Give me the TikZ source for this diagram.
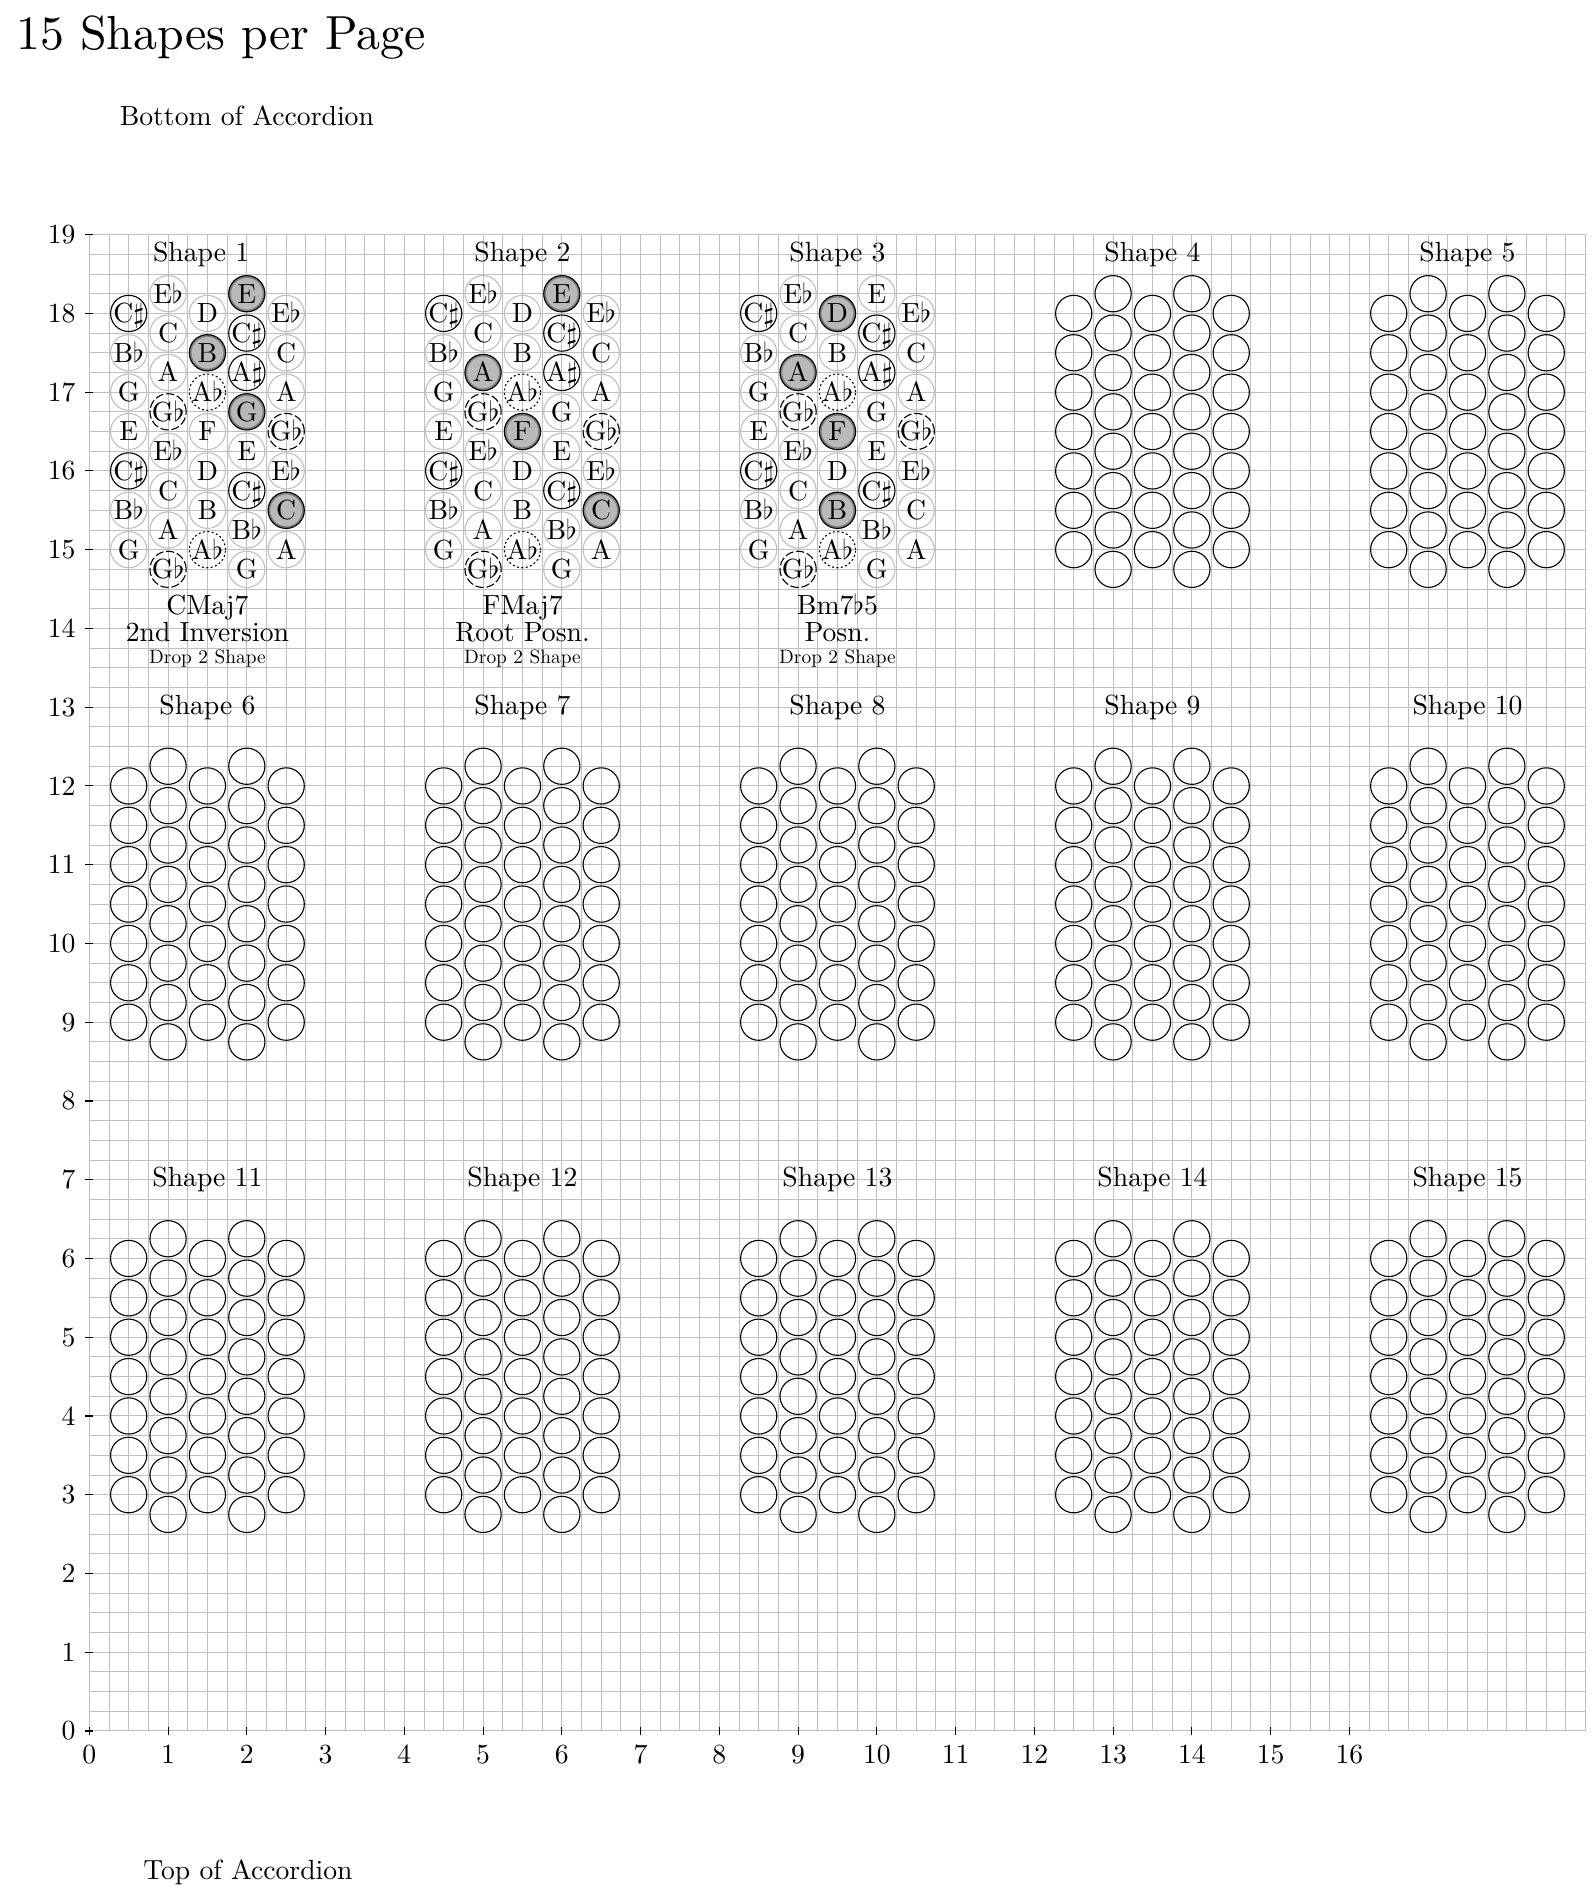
\documentclass[tikz,border=0pt]{standalone}
\usepackage{fontspec}
\setmainfont{lmroman10-regular.otf}
\newcommand{\fl}[1]{#1$\flat$}
\newcommand{\sh}[1]{#1$\sharp$}
\begin{document}
\begin{tikzpicture}[
  key/.style={circle, draw=gray!50, minimum size=4.6mm, inner sep=0pt,
    text height=6.8pt, text depth=0pt,
    execute at begin node={\hbox to 0pt\bgroup\hss},
    execute at end node={\hss\egroup}},
  sharpkey/.style={key, draw=black},
  flatkey/.style={key, draw=black, dash pattern=on 3pt off 1pt},
  dotkey/.style={key, draw=black, dash pattern=on 0.7pt off 0.9pt},
  chordkey/.style={key, draw=black, fill=gray!55,
    path picture={\draw[gray, line width=1.6pt] (path picture bounding box.center) circle (2.3mm);}},
  blank/.style={circle, draw, minimum size=4.6mm, inner sep=0pt}
]
\useasboundingbox (-1.134,-2.07) rectangle (19.12,21.98);

\node[anchor=base west, inner sep=0pt, font=\LARGE] (pagetitle) at (-0.93,21.35) {15 Shapes per Page};
\node[anchor=base west, inner sep=0pt] (bottomlbl) at (0.38,20.38) {Bottom of Accordion};
\node[anchor=base west, inner sep=0pt] (toplbl) at (0.68,-1.88) {Top of Accordion};

% the paper
\draw[gray!50, line width=0.35pt, step=0.25] (0,0) grid (19,19);
\foreach \x in {0,...,16}
  \draw (\x,0.05) -- (\x,-0.05) node[below] (xl\x) {\x};
\foreach \y in {0,...,19}
  \draw (0.05,\y) -- (-0.05,\y) node[left] (yl\y) {\y};

% shape titles
\foreach \s/\x/\y in {1/1.42/18.75, 2/5.5/18.75, 3/9.5/18.75, 4/13.5/18.75, 5/17.5/18.75,
    6/1.5/13, 7/5.5/13, 8/9.5/13, 9/13.5/13, 10/17.5/13,
    11/1.5/7, 12/5.5/7, 13/9.5/7, 14/13.5/7, 15/17.5/7}
  \node (title\s) at (\x,\y) {Shape \s};

% filled in shapes
\foreach \s/\x in {1/0, 2/4, 3/8} {
  \foreach \n/\k [count=\i from 0] in {\sh C/sharpkey, \fl B/key, G/key, E/key, \sh C/sharpkey, \fl B/key, G/key}
    \node[\k] (s\s-a\i) at (\x+0.5,18-\i/2) {\n};
  \foreach \n/\k [count=\i from 0] in {\fl E/key, C/key, A/key, \fl G/flatkey, \fl E/key, C/key, A/key, \fl G/flatkey}
    \node[\k] (s\s-b\i) at (\x+1,18.25-\i/2) {\n};
  \foreach \n/\k [count=\i from 0] in {D/key, B/key, \fl A/dotkey, F/key, D/key, B/key, \fl A/dotkey}
    \node[\k] (s\s-c\i) at (\x+1.5,18-\i/2) {\n};
  \foreach \n/\k [count=\i from 0] in {E/key, \sh C/sharpkey, \sh A/sharpkey, G/key, E/key, \sh C/sharpkey, \fl B/key, G/key}
    \node[\k] (s\s-d\i) at (\x+2,18.25-\i/2) {\n};
  \foreach \n/\k [count=\i from 0] in {\fl E/key, C/key, A/key, \fl G/flatkey, \fl E/key, C/key, A/key}
    \node[\k] (s\s-e\i) at (\x+2.5,18-\i/2) {\n};
}

% CMaj7
\node[chordkey] (s1-E) at (s1-d0) {E};
\node[chordkey] (s1-B) at (s1-c1) {B};
\node[chordkey] (s1-G) at (s1-d3) {G};
\node[chordkey] (s1-C) at (s1-e5) {C};
% FMaj7
\node[chordkey] (s2-E) at (s2-d0) {E};
\node[chordkey] (s2-A) at (s2-b2) {A};
\node[chordkey] (s2-F) at (s2-c3) {F};
\node[chordkey] (s2-C) at (s2-e5) {C};
% Bm7b5
\node[chordkey] (s3-D) at (s3-c0) {D};
\node[chordkey] (s3-A) at (s3-b2) {A};
\node[chordkey] (s3-F) at (s3-c3) {F};
\node[chordkey] (s3-B) at (s3-c5) {B};

\foreach \s/\x/\name/\pos in {1/1.5/CMaj7/2nd Inversion, 2/5.5/FMaj7/Root Posn., 3/9.5/Bm7$\flat$5/Posn.} {
  \node[anchor=base] (s\s-name) at (\x,14.18) {\name};
  \node[anchor=base] (s\s-pos) at (\x,13.83) {\pos};
  \node[anchor=base, font=\scriptsize] (s\s-drop) at (\x,13.55) {Drop 2 Shape};
}

% empty shapes
\foreach \s/\x/\y in {4/12/18, 5/16/18, 6/0/12, 7/4/12, 8/8/12, 9/12/12, 10/16/12,
    11/0/6, 12/4/6, 13/8/6, 14/12/6, 15/16/6} {
  \foreach \c [count=\k] in {0.5,1.5,2.5}
    \foreach \i in {0,...,6}
      \node[blank] (s\s-o\k-\i) at (\x+\c,\y-\i/2) {};
  \foreach \c [count=\k] in {1,2}
    \foreach \i in {0,...,7}
      \node[blank] (s\s-e\k-\i) at (\x+\c,\y+0.25-\i/2) {};
}
\end{tikzpicture}
\end{document}
